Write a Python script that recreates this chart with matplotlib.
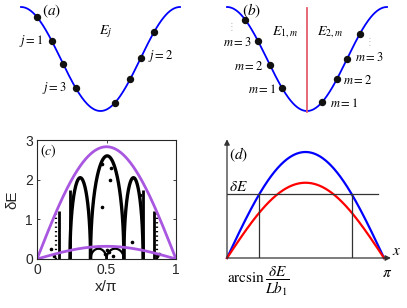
import numpy as np
import matplotlib.pyplot as plt

plt.rcParams['mathtext.fontset'] = 'stix'
plt.rcParams['font.family'] = ['Liberation Sans', 'DejaVu Sans']

# band curve for (a) and (b): E = cos(k), k in [0, 2pi]
k = np.linspace(0, 2 * np.pi, 400)
band = np.cos(k)

# (a) sampled momenta j
dots_a = [0.63, 1.22, 1.66, 2.17, 3.72, 4.31, 4.74, 5.26]
labels_a = [(r'$j=1$', 0.87, 0.35, 'right'),
            (r'$j=3$', 1.82, -0.56, 'right'),
            (r'$j=2$', 5.02, 0.06, 'left')]

# (b) sampled momenta m on both sides of the cut
dots_b = [0.71, 1.22, 1.69, 2.16, 3.73, 4.32, 4.71, 5.22]
labels_b = [(r'$m=3$', 0.98, 0.31, 'right'),
            (r'$m=2$', 1.41, -0.14, 'right'),
            (r'$m=1$', 1.92, -0.58, 'right'),
            (r'$m=1$', 4.05, -0.85, 'left'),
            (r'$m=2$', 4.55, -0.42, 'left'),
            (r'$m=3$', 5.03, 0.02, 'left')]

# (c) envelopes and lobes
env_upper = 2.83
env_lower = 0.32
lobe_left = [0.237, 0.385, 0.625]
lobe_right = [0.385, 0.625, 0.763]
lobe_peak = [2.05, 2.60, 2.05]
arc_left = [0.385, 0.50]
arc_right = [0.50, 0.625]
arc_peak = [0.26, 0.26]
vline_x = [0.155, 0.237, 0.763, 0.845]
vline_top = [1.20, 1.75, 1.75, 1.20]
dotcol_x = [0.14, 0.86]
dotcol_top = [1.15, 1.15]
scat_x = [0.10, 0.47, 0.53, 0.525, 0.47, 0.74, 0.68, 0.44, 0.49, 0.52, 0.55, 0.50, 0.86, 0.88, 0.12]
scat_y = [0.24, 2.39, 2.29, 1.99, 1.32, 1.61, 0.44, 0.30, 0.12, 0.18, 0.08, 0.22, 0.08, 0.12, 0.08]

# (d) two sine bands and the energy cut
amp_blue = 1.0
amp_red = 0.71
dE = 0.60

W, H = 407, 308
fig = plt.figure(figsize=(W / 100, H / 100), dpi=100)


def px_axes(x0, y0, x1, y1):
    # axes from pixel box (top-left origin)
    return fig.add_axes([x0 / W, 1 - y1 / H, (x1 - x0) / W, (y1 - y0) / H])


# ---- (a)
axa = px_axes(21, 7, 180, 111)
axa.plot(k, band, color='#0000ff', lw=1.3, clip_on=False)
axa.plot(dots_a, np.cos(dots_a), 'o', color='#111111', ms=4.3, clip_on=False)
for txt, x, y, ha in labels_a:
    axa.text(x, y, txt, ha=ha, va='center', fontsize=9)
axa.text(3.36, 0.52, r'$E_j$', ha='center', va='center', fontsize=10)
axa.text(1.22, 0.92, r'$(a)$', ha='center', va='center', fontsize=11)
axa.set_xlim(0, 2 * np.pi)
axa.set_ylim(-1, 1)
axa.axis('off')

# ---- (b)
axb = px_axes(227, 7, 387, 111)
axb.plot(k, band, color='#0000ff', lw=1.3, clip_on=False)
axb.plot([np.pi, np.pi], [-1.02, 0.98], color='#e35d6a', lw=1.3, clip_on=False)
axb.plot(dots_b, np.cos(dots_b), 'o', color='#111111', ms=4.3, clip_on=False)
for txt, x, y, ha in labels_b:
    axb.text(x, y, txt, ha=ha, va='center', fontsize=9)
axb.text(2.28, 0.52, r'$E_{1,m}$', ha='center', va='center', fontsize=10)
axb.text(4.04, 0.52, r'$E_{2,m}$', ha='center', va='center', fontsize=10)
axb.text(0.98, 0.92, r'$(b)$', ha='center', va='center', fontsize=11)
axb.text(0.16, 0.62, '⋮', ha='center', va='center', fontsize=7, color='#bbbbbb')
axb.text(5.60, 0.33, '⋮', ha='center', va='center', fontsize=7, color='#bbbbbb')
axb.set_xlim(0, 2 * np.pi)
axb.set_ylim(-1, 1)
axb.axis('off')

# ---- (c)
axc = px_axes(37, 140, 176, 259)
xs = np.linspace(0, 1, 400)
for a, b, p in zip(lobe_left, lobe_right, lobe_peak):
    t = np.linspace(-1, 1, 300)
    axc.plot((a + b) / 2 + t * (b - a) / 2, p * np.sqrt(1 - t ** 2), color='black', lw=2.4)
for a, b, p in zip(arc_left, arc_right, arc_peak):
    t = np.linspace(-1, 1, 200)
    axc.plot((a + b) / 2 + t * (b - a) / 2, p * np.sqrt(1 - t ** 2), color='black', lw=1.6)
axc.vlines(vline_x, 0, vline_top, color='black', lw=2.0)
axc.vlines(dotcol_x, 0, dotcol_top, color='black', lw=1.6, linestyles=(0, (0.6, 1.4)))
axc.plot(scat_x, scat_y, 'o', color='black', ms=1.6)
axc.plot(xs, env_upper * np.sin(np.pi * xs), color='#a957e0', lw=2.0)
axc.plot(xs, env_lower * np.sin(np.pi * xs), color='#a957e0', lw=2.0)
axc.text(0.025, 2.72, r'$(c)$', ha='left', va='center', fontsize=10)
axc.set_xlim(0, 1)
axc.set_ylim(0, 3)
axc.set_xticks([0, 0.5, 1])
axc.set_xticklabels(['0', '0.5', '1'])
axc.set_yticks([0, 1, 2, 3])
axc.tick_params(direction='in', top=True, right=True, length=2.5, width=0.6,
                labelsize=10, pad=3, colors='#262626')
for s in axc.spines.values():
    s.set_linewidth(0.8)
    s.set_color('#262626')
axc.set_xlabel('x/π', fontsize=11, labelpad=2, color='#262626')
axc.set_ylabel('δE', fontsize=11, labelpad=4, color='#262626')

# ---- (d)
axd = px_axes(227, 135, 395, 258)
xd = np.linspace(0, np.pi, 400)
axd.set_xlim(0, 168 / 157 * np.pi)
axd.set_ylim(0, 123 / 106)
axd.axis('off')
axd.annotate('', xy=(0, 1.12), xytext=(0, 0),
             arrowprops=dict(arrowstyle='-|>', color='#333333', lw=0.9,
                             mutation_scale=8, shrinkA=0, shrinkB=0))
axd.annotate('', xy=(3.28, 0), xytext=(0, 0),
             arrowprops=dict(arrowstyle='-|>', color='#333333', lw=0.9,
                             mutation_scale=8, shrinkA=0, shrinkB=0))
axd.plot(xd, amp_blue * np.sin(xd), color='#0000ff', lw=1.6, clip_on=False)
axd.plot(xd, amp_red * np.sin(xd), color='#ff0000', lw=1.6, clip_on=False)
x_cut = np.arcsin(dE / amp_blue)
axd.plot([0, 3.02], [dE, dE], color='#333333', lw=0.9)
axd.plot([x_cut, x_cut], [0, dE], color='#333333', lw=0.9)
axd.plot([np.pi - x_cut, np.pi - x_cut], [0, dE], color='#333333', lw=0.9)
axd.text(0.05, 0.97, r'$(d)$', ha='left', va='center', fontsize=11)
axd.text(0.05, 0.67, r'$\delta E$', ha='left', va='center', fontsize=11)
axd.text(3.30, 0.07, r'$x$', ha='left', va='center', fontsize=11)
axd.text(3.20, -0.14, r'$\pi$', ha='center', va='center', fontsize=11, clip_on=False)
axd.text(0.62, -0.22, r'$\mathrm{arcsin}\,\dfrac{\delta E}{Lb_1}$', ha='center',
         va='center', fontsize=11, clip_on=False)

fig.savefig('out.png', dpi=100)
